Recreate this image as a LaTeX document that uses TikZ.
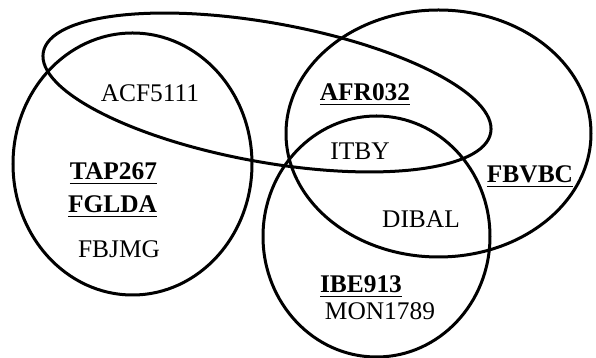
\documentclass[tikz,border=0pt]{standalone}
\usepackage{fontspec}
\setmainfont{Liberation Serif}
\begin{document}
\begin{tikzpicture}[x=0.5pt,y=0.5pt,
  setline/.style={line width=1.5pt},
  lbl/.style={anchor=base,inner sep=0pt,font=\fontsize{12.7}{15}\selectfont},
  blbl/.style={lbl,font=\fontsize{12.7}{15}\selectfont\bfseries}]
\useasboundingbox (0,0) rectangle (596,358);
% sets
\draw[setline] (132.5,194) ellipse [x radius=119.5, y radius=131];
\draw[setline,rotate around={-10.2:(267,265.5)}] (267,265.5) ellipse [x radius=227.3, y radius=69.6];
\draw[setline] (438.5,224.5) ellipse [x radius=152.5, y radius=123.5];
\draw[setline] (376.5,121.5) ellipse [x radius=113.5, y radius=120.5];
% labels
\node[lbl]  (acf)  at (150,256) {ACF5111};
\node[blbl] (afr)  at (365,257) {\underline{AFR032}};
\node[lbl]  (itby) at (360,198) {ITBY};
\node[blbl] (fbv)  at (530,175) {\underline{FBVBC}};
\node[lbl]  (dib)  at (421,130) {DIBAL};
\node[blbl] (ibe)  at (361,65)  {\underline{IBE913}};
\node[lbl]  (mon)  at (380,38)  {MON1789};
\node[blbl] (tap)  at (113.5,178) {\underline{TAP267}};
\node[blbl] (fgl)  at (112.5,145) {\underline{FGLDA}};
\node[lbl]  (fbj)  at (119,100) {FBJMG};
\end{tikzpicture}
\end{document}
